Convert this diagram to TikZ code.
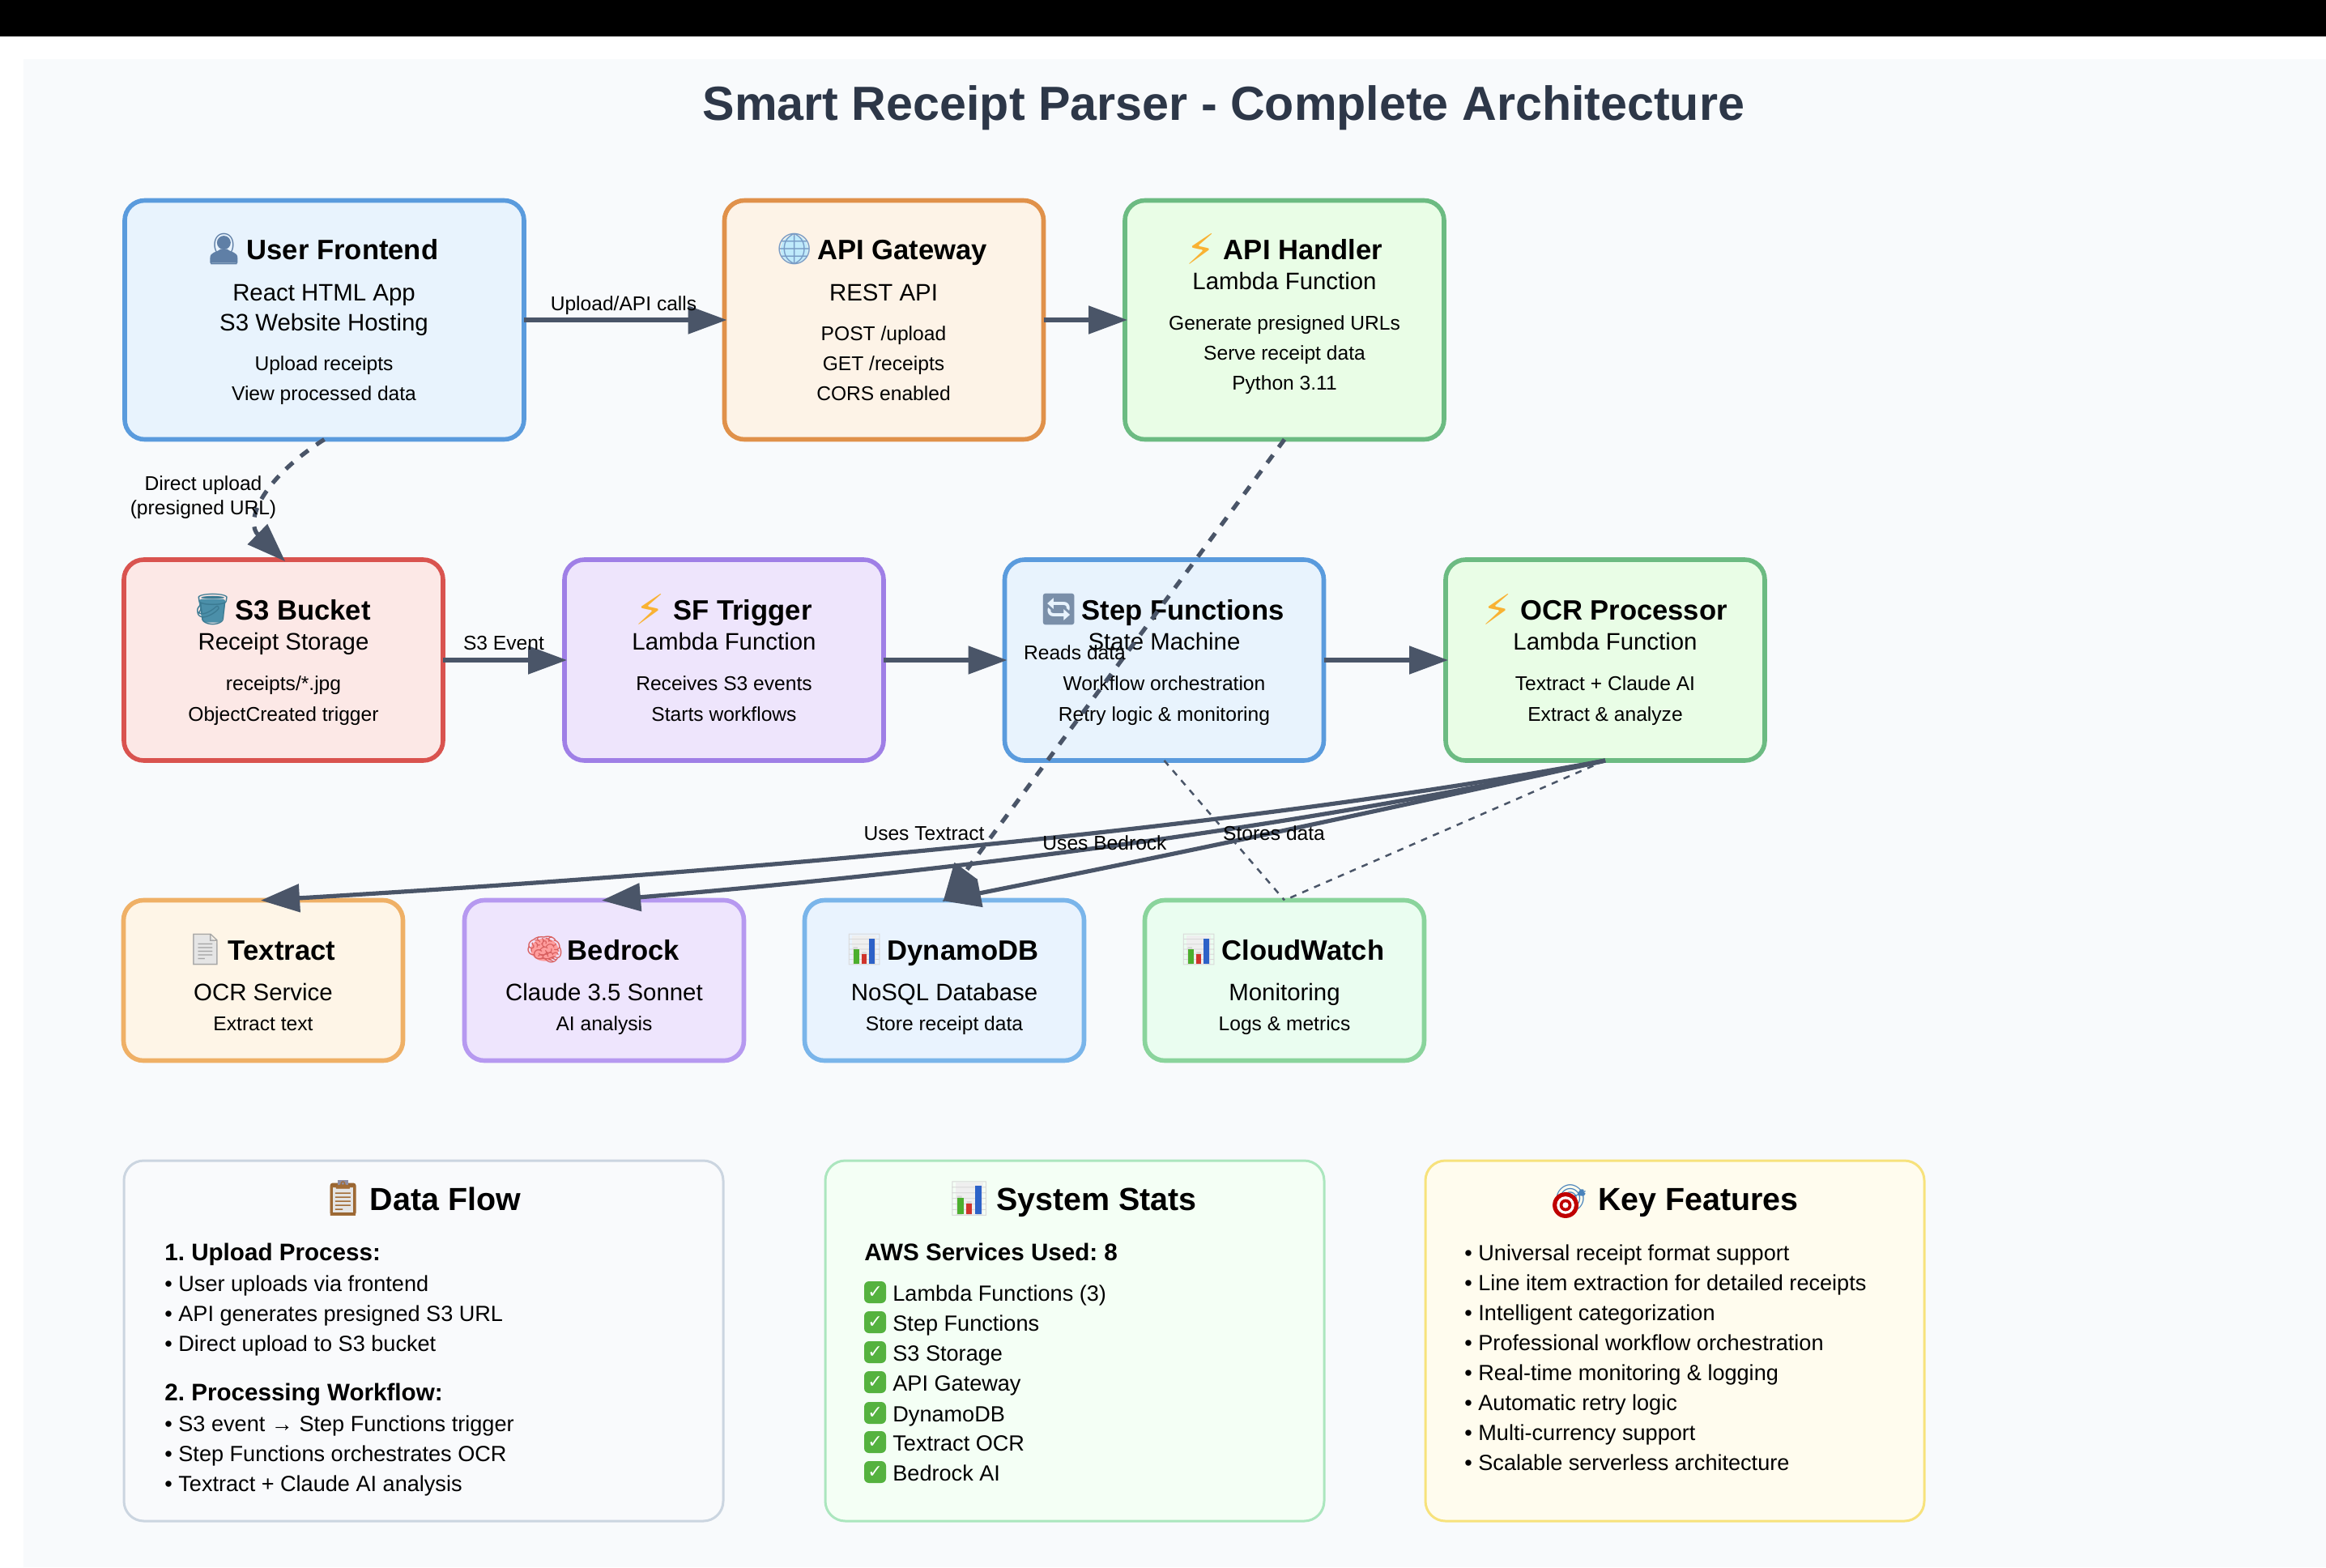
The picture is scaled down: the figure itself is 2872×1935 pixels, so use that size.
\documentclass[tikz,border=0pt]{standalone}
\usepackage{fontspec}
\setmainfont{Liberation Sans}
\newfontfamily\emojifont{Noto Emoji}
\newfontfamily\dejafont{DejaVu Sans}
\usetikzlibrary{arrows.meta}
\definecolor{ink}{HTML}{4A5568}
\definecolor{titleink}{HTML}{2D3748}
\definecolor{panelbg}{HTML}{F8FAFC}
\definecolor{blueS}{HTML}{5A9BDD}\definecolor{blueF}{HTML}{E8F3FD}
\definecolor{orangeS}{HTML}{E0914A}\definecolor{orangeF}{HTML}{FDF3E7}
\definecolor{greenS}{HTML}{6CBB82}\definecolor{greenF}{HTML}{E9FDE6}
\definecolor{redS}{HTML}{D9534F}\definecolor{redF}{HTML}{FCE8E6}
\definecolor{purpS}{HTML}{9F7FE6}\definecolor{purpF}{HTML}{EEE5FC}
\definecolor{amberS}{HTML}{EFB066}\definecolor{amberF}{HTML}{FEF5E7}
\definecolor{lilacS}{HTML}{B699F0}\definecolor{lilacF}{HTML}{EEE5FD}
\definecolor{skyS}{HTML}{7AB5EA}\definecolor{skyF}{HTML}{E9F3FE}
\definecolor{mintS}{HTML}{8AD49C}\definecolor{mintF}{HTML}{EAFDF0}
\definecolor{greyS}{HTML}{CBD5E0}\definecolor{greyF}{HTML}{F9FAFC}
\definecolor{pgreenS}{HTML}{ABE6BE}\definecolor{pgreenF}{HTML}{F4FFF5}
\definecolor{pyellowS}{HTML}{F7E27C}\definecolor{pyellowF}{HTML}{FFFCEE}
\definecolor{checkgreen}{HTML}{55B23F}
\definecolor{boltc}{HTML}{F9B233}
\definecolor{personc}{HTML}{5F7FA6}
\definecolor{bucketc}{HTML}{4B8FA9}
\definecolor{bucketd}{HTML}{3B7A92}
\definecolor{cyclec}{HTML}{7A8FA9}
\definecolor{barG}{HTML}{4CAF2E}
\definecolor{barR}{HTML}{D0342C}
\definecolor{barB}{HTML}{2D62C8}
\definecolor{paperc}{HTML}{EFEFEF}
\tikzset{
  x=0.5pt,y=-0.5pt,
  boxbase/.style={draw,line width=2.8pt,rounded corners=12.3pt,inner sep=0pt,outer sep=0pt},
  topbox/.style={boxbase,minimum width=197pt,minimum height=124pt},
  lowbox/.style={boxbase,minimum width=172.5pt,minimum height=99pt},
  infobox/.style={draw,line width=1.5pt,rounded corners=12.3pt,inner sep=0pt,outer sep=0pt,minimum width=308pt,minimum height=222.5pt},
  head/.style={anchor=base,font=\fontsize{17.3pt}{20pt}\selectfont\bfseries,text=black,inner sep=0pt},
  sub/.style={anchor=base,font=\fontsize{14.7pt}{18pt}\selectfont,text=black,inner sep=0pt},
  small/.style={anchor=base,font=\fontsize{12.3pt}{15pt}\selectfont,text=black,inner sep=0pt},
  phead/.style={anchor=base,font=\fontsize{19.7pt}{24pt}\selectfont\bfseries,text=black,inner sep=0pt},
  pbold/.style={anchor=base west,font=\fontsize{14.8pt}{18pt}\selectfont\bfseries,text=black,inner sep=0pt},
  pline/.style={anchor=base west,font=\fontsize{13.55pt}{17pt}\selectfont,text=black,inner sep=0pt},
  elabel/.style={anchor=base,font=\fontsize{12.3pt}{15pt}\selectfont,text=black,inner sep=0pt},
  flow/.style={draw=ink,line width=2.6pt,-{Triangle[length=24pt,width=17pt]},shorten >=-1.5pt},
  dashflow/.style={flow,dash pattern=on 6pt off 6pt},
  thinflow/.style={draw=ink,line width=1.25pt,dash pattern=on 4pt off 4pt},
  checkmark/.style={fill=checkgreen,rounded corners=3pt,inner sep=0pt,minimum width=13.5pt,minimum height=13.5pt,text=white,font=\dejafont\fontsize{11pt}{11pt}\selectfont},
}
% the emoji glyph of a heading: name, colour, size, character
\newcommand\glyphnode[4]{\node[inner sep=0pt,outer sep=0pt,text=#2,font=\emojifont\fontsize{#3pt}{#3pt}\selectfont] (#1) at (0,0) {#4};}
% icon groups sit left of the base west of their heading
\newenvironment{headicon}[1]{\begin{scope}[shift={([xshift=-14pt,yshift=6.2pt]#1.base west)}]}{\end{scope}}
\newenvironment{panelicon}[1]{\begin{scope}[shift={([xshift=-16.5pt,yshift=7pt]#1.base west)},scale=1.14]}{\end{scope}}
\newcommand\bolticon[2]{\begin{headicon}{#2}\node[inner sep=0pt,outer sep=0pt,text=boltc,font=\dejafont\fontsize{26pt}{26pt}\selectfont] (#1) at (0,0) {⚡};\end{headicon}}
\newcommand\chartshapes{%
  \fill[paperc] (-15,-18) rectangle (15,18);}
\newcommand\chartbars{%
  \fill[barG] (-13,-1) rectangle (-6,17);
  \fill[barR] (-3.5,5) rectangle (3,17);
  \fill[barB] (6,-14) rectangle (13,17);}
\begin{document}
\frenchspacing
\begin{tikzpicture}
\path[use as bounding box,fill=white] (0,0) rectangle (2872,1935);
\fill[black] (0,0) rectangle (2872,45);
\fill[panelbg] (29,73) rectangle (2872,1935);
\node[anchor=base,inner sep=0pt,text=titleink,font=\fontsize{29.6pt}{34pt}\selectfont\bfseries] (maintitle) at (1511,148) {Smart Receipt Parser - Complete Architecture};

% top row
\node[topbox,minimum width=246.5pt,minimum height=147.5pt,draw=blueS,fill=blueF] (user) at (400.5,395) {};
\node[topbox,minimum height=147.5pt,draw=orangeS,fill=orangeF] (api) at (1091.5,395) {};
\node[topbox,minimum height=147.5pt,draw=greenS,fill=greenF] (handler) at (1586,395) {};
% middle row
\node[topbox,draw=redS,fill=redF] (s3) at (350,815) {};
\node[topbox,draw=purpS,fill=purpF] (sf) at (894,815) {};
\node[topbox,draw=blueS,fill=blueF] (step) at (1437.5,815) {};
\node[topbox,draw=greenS,fill=greenF] (ocr) at (1982,815) {};
% lower row
\node[lowbox,draw=amberS,fill=amberF] (textract) at (325,1210.5) {};
\node[lowbox,draw=lilacS,fill=lilacF] (bedrock) at (746,1210.5) {};
\node[lowbox,draw=skyS,fill=skyF] (dynamo) at (1166,1210.5) {};
\node[lowbox,draw=mintS,fill=mintF] (cloudwatch) at (1586,1210.5) {};
% info panels
\node[infobox,minimum width=370pt,draw=greyS,fill=greyF] (flowpanel) at (523,1655.5) {};
\node[infobox,draw=pgreenS,fill=pgreenF] (statspanel) at (1327,1655.5) {};
\node[infobox,draw=pyellowS,fill=pyellowF] (keypanel) at (2068,1655.5) {};

% box texts
\node[head] (userT) at (423,320) {User Frontend};
\begin{headicon}{userT}
  \fill[personc] (0,-8) circle (8.5);
  \fill[personc] (-17,17) -- (-17,11) .. controls (-17,3) and (-8,4) .. (-4,0) -- (4,0) .. controls (8,4) and (17,3) .. (17,11) -- (17,17) -- cycle;
  \glyphnode{userE}{personc}{19}{👤}
\end{headicon}
\node[sub] (userA) at (400,371) {React HTML App};
\node[sub] (userB) at (400,408) {S3 Website Hosting};
\node[small] (userC) at (400,457) {Upload receipts};
\node[small] (userD) at (400,494) {View processed data};

\node[head] (apiT) at (1114,320) {API Gateway};
\begin{headicon}{apiT}
  \fill[cyan!25!white] (0,0) circle (17);
  \glyphnode{apiE}{cyan!60!blue!55!white!85!black}{19}{🌐}
\end{headicon}
\node[sub] (apiA) at (1091,371) {REST API};
\node[small] (apiB) at (1091,420) {POST /upload};
\node[small] (apiC) at (1091,457) {GET /receipts};
\node[small] (apiD) at (1091,494) {CORS enabled};

\node[head] (handT) at (1609,320) {API Handler};
\bolticon{handE}{handT}
\node[sub] (handA) at (1586,357) {Lambda Function};
\node[small] (handB) at (1586,407) {Generate presigned URLs};
\node[small] (handC) at (1586,444) {Serve receipt data};
\node[small] (handD) at (1586,481) {Python 3.11};

\node[head] (s3T) at (374,765) {S3 Bucket};
\begin{headicon}{s3T}
  \fill[bucketc,rounded corners=2pt] (-17,-13) -- (17,-13) -- (12,16) -- (-12,16) -- cycle;
  \glyphnode{s3E}{bucketd}{19}{🪣}
\end{headicon}
\node[sub] (s3A) at (350,802.5) {Receipt Storage};
\node[small] (s3B) at (350,852.5) {receipts/*.jpg};
\node[small] (s3C) at (350,890) {ObjectCreated trigger};

\node[head] (sfT) at (917,765) {SF Trigger};
\bolticon{sfE}{sfT}
\node[sub] (sfA) at (894,802.5) {Lambda Function};
\node[small] (sfB) at (894,852.5) {Receives S3 events};
\node[small] (sfC) at (894,890) {Starts workflows};

\node[head] (stepT) at (1460.5,765) {Step Functions};
\begin{headicon}{stepT}
  \glyphnode{stepE}{cyclec}{19}{🔄}
\end{headicon}
\node[sub] (stepA) at (1437.5,802.5) {State Machine};
\node[small] (stepB) at (1437.5,852.5) {Workflow orchestration};
\node[small] (stepC) at (1437.5,890) {Retry logic \& monitoring};

\node[head] (ocrT) at (2005,765) {OCR Processor};
\bolticon{ocrE}{ocrT}
\node[sub] (ocrA) at (1982,802.5) {Lambda Function};
\node[small] (ocrB) at (1982,852.5) {Textract + Claude AI};
\node[small] (ocrC) at (1982,890) {Extract \& analyze};

\node[head] (texT) at (348,1185) {Textract};
\begin{headicon}{texT}
  \fill[white!90!black] (-15,-18) -- (6,-18) -- (15,-6) -- (15,18) -- (-15,18) -- cycle;
  \glyphnode{texE}{white!65!black}{19}{📄}
\end{headicon}
\node[sub] (texA) at (325,1235) {OCR Service};
\node[small] (texB) at (325,1272) {Extract text};

\node[head] (bedT) at (770,1185) {Bedrock};
\begin{headicon}{bedT}
  \fill[red!40!white!90!pink] (0,0) ellipse (17 and 14);
  \glyphnode{bedE}{red!55!white!85!black}{19}{🧠}
\end{headicon}
\node[sub] (bedA) at (746,1235) {Claude 3.5 Sonnet};
\node[small] (bedB) at (746,1272) {AI analysis};

\node[head] (dynT) at (1189,1185) {DynamoDB};
\begin{headicon}{dynT}
  \chartshapes
  \glyphnode{dynE}{white!85!black}{19}{📊}
  \chartbars
\end{headicon}
\node[sub] (dynA) at (1166,1235) {NoSQL Database};
\node[small] (dynB) at (1166,1272) {Store receipt data};

\node[head] (cwT) at (1609,1185) {CloudWatch};
\begin{headicon}{cwT}
  \chartshapes
  \glyphnode{cwE}{white!85!black}{19}{📊}
  \chartbars
\end{headicon}
\node[sub] (cwA) at (1586,1235) {Monitoring};
\node[small] (cwB) at (1586,1272) {Logs \& metrics};

% panel texts
\node[phead] (flowT) at (550,1494) {Data Flow};
\begin{panelicon}{flowT}
  \fill[brown!80!black,rounded corners=1.5pt] (-14,-17) rectangle (14,18);
  \fill[white!90!black] (-11,-13) rectangle (11,15);
  \fill[white!70!blue!30!gray] (-6,-20) rectangle (6,-13);
  \glyphnode{flowE}{brown!85!black}{21}{📋}
\end{panelicon}
\node[pbold] (flow1) at (203,1556) {1. Upload Process:};
\node[pline] (flow2) at (203,1594.5) {• User uploads via frontend};
\node[pline] (flow3) at (203,1631) {• API generates presigned S3 URL};
\node[pline] (flow4) at (203,1668) {• Direct upload to S3 bucket};
\node[pbold] (flow5) at (203,1729) {2. Processing Workflow:};
\node[pline] (flow6) at (203,1767) {• S3 event → Step Functions trigger};
\node[pline] (flow7) at (203,1804) {• Step Functions orchestrates OCR};
\node[pline] (flow8) at (203,1841) {• Textract + Claude AI analysis};

\node[phead] (statsT) at (1354,1494) {System Stats};
\begin{panelicon}{statsT}
  \chartshapes
  \glyphnode{statsE}{white!85!black}{21}{📊}
  \chartbars
\end{panelicon}
\node[pbold] (stats0) at (1067,1556) {AWS Services Used: 8};
\foreach \i/\y/\t in {1/1606/{Lambda Functions (3)},2/1643/{Step Functions},3/1680/{S3 Storage},4/1717/{API Gateway},5/1755/{DynamoDB},6/1791/{Textract OCR},7/1828/{Bedrock AI}}{
  \node[checkmark] (chk\i) at (1080.5,\y-10.5) {✓};
  \node[pline] (stat\i) at (1102,\y) {\t};
}

\node[phead] (keyT) at (2097,1494) {Key Features};
\begin{panelicon}{keyT}
  \glyphnode{keyE}{cyan!60!blue!70!gray}{17}{🎯}
  \fill[red!75!black] (-6,7) circle (14);
  \fill[white] (-6,7) circle (9.5);
  \fill[red!75!black] (-6,7) circle (6.5);
  \fill[white] (-6,7) circle (3.2);
\end{panelicon}
\foreach \i/\y/\t in {1/1556/{Universal receipt format support},2/1593/{Line item extraction for detailed receipts},3/1630/{Intelligent categorization},4/1667/{Professional workflow orchestration},5/1704/{Real-time monitoring \& logging},6/1741/{Automatic retry logic},7/1778/{Multi-currency support},8/1815/{Scalable serverless architecture}}{
  \node[pline] (feat\i) at (1808,\y) {• \t};
}

% connectors
\draw[flow] (user.east) -- (api.west);
\draw[flow] (api.east) -- (handler.west);
\draw[flow] (s3.east) -- (sf.west);
\draw[flow] (sf.east) -- (step.west);
\draw[flow] (step.east) -- (ocr.west);
\draw[dashflow] (user.south) .. controls (320,594) and (303,645) .. (s3.north);
\draw[dashflow] (handler.south) -- (dynamo.north);
\draw[flow] (ocr.south) .. controls (1594,1011) and (1042,1069) .. (textract.north);
\draw[flow] (ocr.south) .. controls (1643,1013) and (1231,1071) .. (bedrock.north);
\draw[flow] (ocr.south) .. controls (1727,996) and (1455,1054) .. (dynamo.north);
\draw[thinflow] (step.south) -- (cloudwatch.north);
\draw[thinflow] (ocr.south) -- (cloudwatch.north);

% connector labels
\node[elabel] (lblUpload) at (770,383) {Upload/API calls};
\node[elabel] (lblDirectA) at (251,605) {Direct upload};
\node[elabel] (lblDirectB) at (251,635) {(presigned URL)};
\node[elabel] (lblS3) at (622,802) {S3 Event};
\node[elabel] (lblReads) at (1327,814) {Reads data};
\node[elabel] (lblTextract) at (1141,1037) {Uses Textract};
\node[elabel] (lblBedrock) at (1364,1049) {Uses Bedrock};
\node[elabel] (lblStores) at (1573,1037) {Stores data};
\end{tikzpicture}
\end{document}
